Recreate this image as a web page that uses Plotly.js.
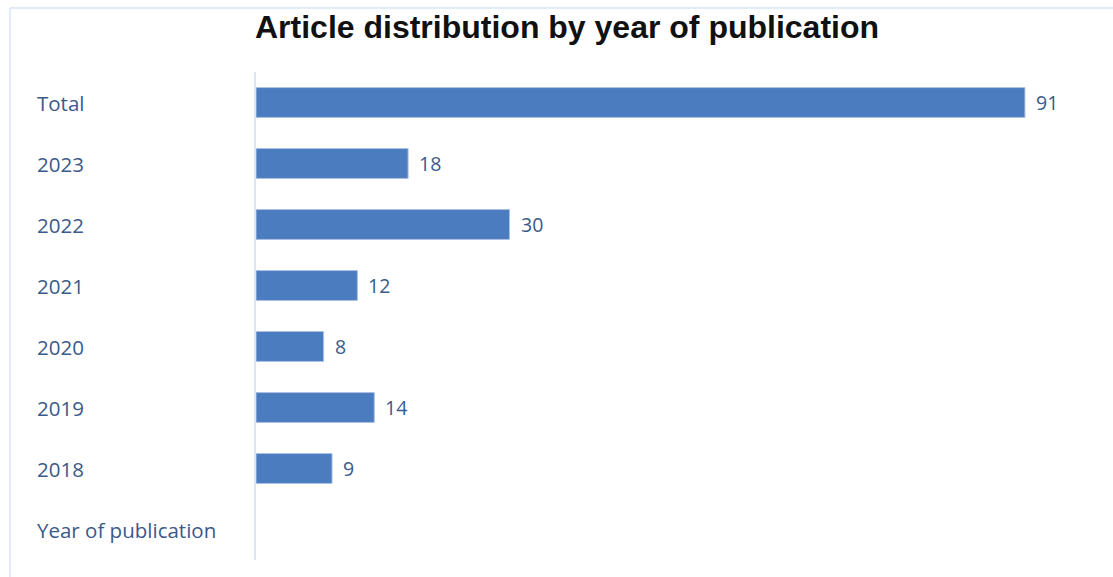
<!DOCTYPE html>
<html>
<head>
<meta charset="utf-8">
<script src="https://cdn.plot.ly/plotly-3.0.1.min.js"></script>
<style>
html,body{margin:0;padding:0;background:#fff;}
#chart{width:1113px;height:577px;}
</style>
</head>
<body>
<div id="chart"></div>
<script>
// Data
const categories = ["Year of publication", "2018", "2019", "2020", "2021", "2022", "2023", "Total"];
const values = [null, 9, 14, 8, 12, 30, 18, 91];
const valueLabels = ["", "9", "14", "8", "12", "30", "18", "91"];
const chartTitle = "Article distribution by year of publication";

const W = 1113, H = 577;
const M = {l: 256, r: 12, t: 72, b: 17};
const pw = W - M.l - M.r, ph = H - M.t - M.b;
const labelColor = "#3b5a8a";
const catFont = {family: "Open Sans, Noto Sans, sans-serif", size: 20.5, color: labelColor};
const valFont = {family: "Open Sans, Noto Sans, sans-serif", size: 19.5, color: labelColor};

const idx = categories.map((c, i) => i);

const trace = {
  type: "bar",
  orientation: "h",
  y: idx,
  x: values,
  marker: {color: "#4b7cc0", line: {color: "#a9c1e3", width: 1}},
  width: 0.49,
  hoverinfo: "skip"
};

const catAnnotations = categories.map((c, i) => ({
  xref: "paper", yref: "y",
  x: (35 - M.l) / pw, y: i,
  xanchor: "left", yanchor: "middle",
  text: c, showarrow: false,
  font: catFont
}));

const valAnnotations = values.map((v, i) => v == null ? null : ({
  xref: "x", yref: "y",
  x: v, y: i,
  xanchor: "left", yanchor: "middle",
  xshift: 9,
  text: valueLabels[i], showarrow: false,
  font: valFont
})).filter(a => a);

const layout = {
  width: W, height: H,
  margin: M,
  paper_bgcolor: "#ffffff",
  plot_bgcolor: "#ffffff",
  showlegend: false,
  title: {
    text: "<b>" + chartTitle + "</b>",
    x: 567 / W, xanchor: "center",
    y: 1 - 27 / H, yanchor: "middle",
    font: {family: "Liberation Sans, Arial, sans-serif", size: 32, color: "#111111"}
  },
  xaxis: {
    range: [0, 100],
    showgrid: false, zeroline: false, showticklabels: false, showline: false, ticks: ""
  },
  yaxis: {
    range: [-0.5, categories.length - 0.5],
    showticklabels: false, showgrid: false, zeroline: false, ticks: "",
    showline: true, linecolor: "#dae4f2", linewidth: 2
  },
  annotations: catAnnotations.concat(valAnnotations),
  shapes: [
    {type: "line", xref: "paper", yref: "paper",
     x0: (10 - M.l) / pw, x1: (10 - M.l) / pw,
     y0: (H - M.b - 8) / ph, y1: (H - M.b - H) / ph,
     line: {color: "#e3ebf8", width: 2}},
    {type: "line", xref: "paper", yref: "paper",
     x0: (10 - M.l) / pw, x1: (W - M.l) / pw,
     y0: (H - M.b - 8) / ph, y1: (H - M.b - 8) / ph,
     line: {color: "#e3ebf8", width: 2}}
  ]
};

Plotly.newPlot("chart", [trace], layout, {displayModeBar: false, staticPlot: true});
</script>
</body>
</html>
